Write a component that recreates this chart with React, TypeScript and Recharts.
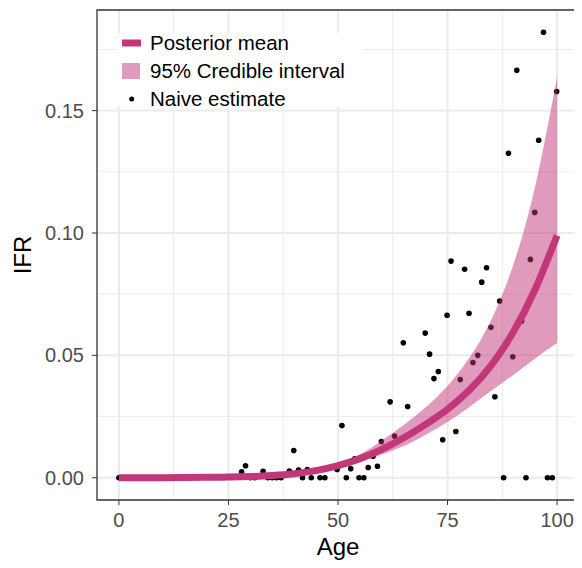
import React from 'react';
import {
  ComposedChart, Area, Line, Scatter, XAxis, YAxis,
  ReferenceLine, ReferenceArea, Label
} from 'recharts';

const ages = [0, 5, 10, 15, 20, 25, 30, 35, 40, 45, 50, 55, 60, 65, 70, 75, 80, 85, 90, 95, 100];
const meanIfr = [0, 0.00002, 0.00004, 0.00008, 0.00015, 0.0003, 0.0005, 0.0009, 0.0016, 0.0029, 0.0049, 0.0078, 0.0116, 0.0163, 0.0218, 0.028, 0.0358, 0.046, 0.0595, 0.077, 0.099];
const lowerIfr = [0, 0.00001, 0.00003, 0.00006, 0.00012, 0.00025, 0.0004, 0.0007, 0.0013, 0.0024, 0.0041, 0.0065, 0.0095, 0.013, 0.0176, 0.0228, 0.0289, 0.0355, 0.042, 0.0487, 0.055];
const upperIfr = [0, 0.00003, 0.00005, 0.0001, 0.0002, 0.0004, 0.0006, 0.0011, 0.0019, 0.0034, 0.0058, 0.0095, 0.0152, 0.0215, 0.0288, 0.0375, 0.049, 0.0645, 0.087, 0.119, 0.1637];

// naive estimates (age, IFR)
const naiveAge = [
  0, 28, 28.9, 30, 31, 32.9, 34, 35, 36, 37, 38.9, 39.9, 41, 41.9, 43, 43.9, 45, 45.9, 47,
  49.8, 50.9, 51.9, 52.9, 53.8, 54.8, 55.9, 56.9, 58, 59, 59.9, 61.9, 62.9, 64.9, 65.9,
  69.9, 70.9, 71.9, 72.9, 73.9, 74.9, 75.8, 76.9, 77.9, 78.9, 79.9, 80.8, 81.9, 82.8, 83.9,
  84.9, 85.8, 86.9, 87.8, 88.9, 89.9, 90.8, 91.9, 92.9, 93.9, 94.9, 95.8, 96.9, 97.8, 98.9, 99.9
];
const naiveIfr = [
  0, 0.0024, 0.0049, 0, 0, 0.0026, 0, 0, 0, 0, 0.0027, 0.0111, 0.0031, 0, 0.0033, 0, 0.0031, 0, 0,
  0.0034, 0.0213, 0, 0.0037, 0.0077, 0, 0, 0.0042, 0.0088, 0.0047, 0.0148, 0.031, 0.017, 0.0551, 0.0291,
  0.0591, 0.0505, 0.0405, 0.0434, 0.0155, 0.0664, 0.0885, 0.0189, 0.0401, 0.0852, 0.0672, 0.0471, 0.05, 0.0799, 0.0858,
  0.0615, 0.0331, 0.0722, 0, 0.1326, 0.0494, 0.1665, 0.064, 0, 0.0892, 0.1084, 0.1379, 0.182, 0, 0, 0.1578
];

const xMajor = [0, 25, 50, 75, 100];
const xMinor = [12.5, 37.5, 62.5, 87.5];
const yMajor = [0, 0.05, 0.1, 0.15];
const yMinor = [0.025, 0.075, 0.125, 0.175];

const X_DOMAIN = [-5, 105];
const Y_DOMAIN = [-0.0091, 0.1911];

const LINE_COL = '#C2377A';
const FONT = '"Liberation Sans", Arial, Helvetica, sans-serif';

const curve = ages.map((a, i) => ({ age: a, mean: meanIfr[i], band: [lowerIfr[i], upperIfr[i]] }));
const naive = naiveAge.map((a, i) => ({ age: a, ifr: naiveIfr[i] }));

const Dot = (p: any) => <circle cx={p.cx} cy={p.cy} r={2.8} fill="#000" />;

function LegendBox() {
  return (
    <svg width={260} height={84} style={{ position: 'absolute', left: 110, top: 25, overflow: 'visible' }}>
      <rect x={0} y={0} width={244} height={74} fill="#fff" />
      <rect x={4} y={6.5} width={19} height={7} fill={LINE_COL} />
      <rect x={4} y={30} width={18} height={16} fill={LINE_COL} fillOpacity={0.5} />
      <circle cx={13.7} cy={66} r={2.5} fill="#000" />
      <g fontSize={20.5} fontFamily={FONT} fill="#000">
        <text x={32} y={17}>Posterior mean</text>
        <text x={32} y={45}>95% Credible interval</text>
        <text x={32} y={73}>Naive estimate</text>
      </g>
    </svg>
  );
}

export default function App() {
  const tick = { fill: '#4D4D4D', fontSize: 20, fontFamily: FONT };
  return (
    <div style={{ position: 'relative', width: 574, height: 552, fontFamily: FONT }}>
      <ComposedChart width={574} height={552} data={curve} margin={{ top: 2, right: 3, bottom: 0, left: 0 }}>
        {xMinor.map(v => <ReferenceLine key={'xm' + v} x={v} stroke="#EBEBEB" strokeWidth={1} zIndex={-100} />)}
        {yMinor.map(v => <ReferenceLine key={'ym' + v} y={v} stroke="#EBEBEB" strokeWidth={1} zIndex={-100} />)}
        {xMajor.map(v => <ReferenceLine key={'xM' + v} x={v} stroke="#EBEBEB" strokeWidth={2} zIndex={-100} />)}
        {yMajor.map(v => <ReferenceLine key={'yM' + v} y={v} stroke="#EBEBEB" strokeWidth={2} zIndex={-100} />)}
        <XAxis
          dataKey="age" type="number" domain={X_DOMAIN} ticks={xMajor} allowDataOverflow
          axisLine={false} tickLine={{ stroke: '#333' }} tickSize={5} tickMargin={8}
          tick={tick} height={60}
        >
          <Label value="Age" position="insideBottom" offset={5} style={{ fontSize: 24, fill: '#000', fontFamily: FONT }} />
        </XAxis>
        <YAxis
          type="number" domain={Y_DOMAIN} ticks={yMajor} allowDataOverflow
          tickFormatter={(v: number) => v.toFixed(2)}
          axisLine={false} tickLine={{ stroke: '#333' }} tickSize={5} tickMargin={8}
          tick={tick} width={89}
        >
          <Label value="IFR" angle={-90} position="insideLeft" offset={14}
            style={{ fontSize: 24, fill: '#000', fontFamily: FONT, textAnchor: 'middle' }} />
        </YAxis>
        <Scatter data={naive} dataKey="ifr" shape={Dot} isAnimationActive={false} zIndex={50} />
        <Area type="natural" dataKey="band" stroke="none" fill={LINE_COL} fillOpacity={0.5}
          isAnimationActive={false} zIndex={100} />
        <Line type="natural" dataKey="mean" stroke={LINE_COL} strokeWidth={7} dot={false}
          activeDot={false} isAnimationActive={false} zIndex={400} />
        <ReferenceArea x1={X_DOMAIN[0]} x2={X_DOMAIN[1]} y1={Y_DOMAIN[0]} y2={Y_DOMAIN[1]}
          fill="none" stroke="#333" strokeWidth={1.3} ifOverflow="visible" zIndex={500} />
      </ComposedChart>
      <LegendBox />
    </div>
  );
}
